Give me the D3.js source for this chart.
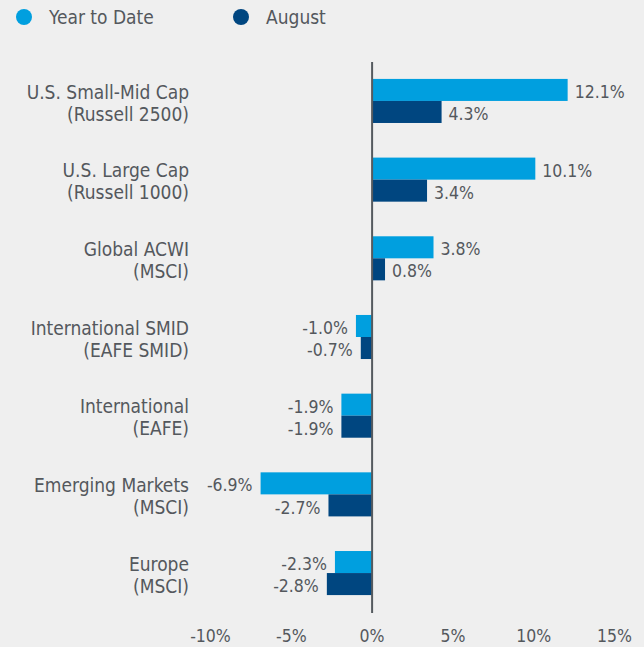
<!DOCTYPE html>
<html>
<head>
<meta charset="utf-8">
<script src="https://cdn.jsdelivr.net/npm/d3@7"></script>
<style>
  body { margin: 0; background: #efefef; }
  svg { display: block; }
  text { font-family: "DejaVu Sans Condensed", Roboto, sans-serif; fill: #54585d; }
</style>
</head>
<body>
<svg></svg>
<script>
// data
var categories = [
    ["U.S. Small-Mid Cap", "(Russell 2500)"],
    ["U.S. Large Cap", "(Russell 1000)"],
    ["Global ACWI", "(MSCI)"],
    ["International SMID", "(EAFE SMID)"],
    ["International", "(EAFE)"],
    ["Emerging Markets", "(MSCI)"],
    ["Europe", "(MSCI)"]
];
var ytd = [12.1, 10.1, 3.8, -1.0, -1.9, -6.9, -2.3];
var august = [4.3, 3.4, 0.8, -0.7, -1.9, -2.7, -2.8];
var seriesNames = ["Year to Date", "August"];
var colors = ["#009fdf", "#004680"];
var ticks = [-10, -5, 0, 5, 10, 15];

var width = 644, height = 647;

var svg = d3.select("svg")
    .attr("width", width)
    .attr("height", height);

var x = d3.scaleLinear()
    .domain([-10, 15])
    .range([210.5, 614.5]);

var y = d3.scaleBand()
    .domain(d3.range(categories.length))
    .range([62, 612])
    .paddingInner(0.44)
    .paddingOuter(0.215);

var sub = d3.scaleBand()
    .domain([0, 1])
    .range([0, y.bandwidth()]);

var rows = categories.map(function(c, i) {
    return {name: c, values: [ytd[i], august[i]]};
});

// legend
var legend = svg.append("g").selectAll("g")
    .data(seriesNames)
    .enter()
    .append("g")
    .attr("transform", function(d, i) { return "translate(" + (i == 0 ? 24 : 241) + ",17)"; });

legend.append("circle")
    .attr("cx", 0)
    .attr("r", 8)
    .attr("fill", function(d, i) { return colors[i]; });

legend.append("text")
    .attr("x", 25)
    .attr("dy", "0.35em")
    .style("font-size", "19px")
    .text(function(d) { return d; });

// bars
var group = svg.append("g").selectAll("g")
    .data(rows)
    .enter()
    .append("g")
    .attr("transform", function(d, i) { return "translate(0," + y(i) + ")"; });

group.selectAll("rect")
    .data(function(d) { return d.values; })
    .enter()
    .append("rect")
    .attr("x", function(d) { return x(Math.min(0, d)); })
    .attr("y", function(d, j) { return sub(j); })
    .attr("width", function(d) { return Math.abs(x(d) - x(0)); })
    .attr("height", sub.bandwidth())
    .attr("fill", function(d, j) { return colors[j]; });

group.selectAll("text.val")
    .data(function(d) { return d.values; })
    .enter()
    .append("text")
    .attr("class", "val")
    .attr("x", function(d) { return d >= 0 ? x(d) + 7 : x(d) - 8; })
    .attr("y", function(d, j) { return sub(j) + sub.bandwidth() / 2 + 2; })
    .attr("dy", "0.35em")
    .attr("text-anchor", function(d) { return d >= 0 ? "start" : "end"; })
    .style("font-size", "17.5px")
    .text(function(d) { return d.toFixed(1) + "%"; });

// category labels
var lbl = group.append("text")
    .attr("text-anchor", "end")
    .style("font-size", "19px");

lbl.append("tspan")
    .attr("x", 189)
    .attr("y", y.bandwidth() / 2 - 9)
    .attr("dy", "0.35em")
    .text(function(d) { return d.name[0]; });

lbl.append("tspan")
    .attr("x", 189)
    .attr("y", y.bandwidth() / 2 + 13)
    .attr("dy", "0.35em")
    .text(function(d) { return d.name[1]; });

// zero line
svg.append("line")
    .attr("x1", x(0)).attr("x2", x(0))
    .attr("y1", 62).attr("y2", 613)
    .attr("stroke", "#555a5f")
    .attr("stroke-width", 2);

// x axis tick labels
svg.append("g").selectAll("text")
    .data(ticks)
    .enter()
    .append("text")
    .attr("x", function(d) { return x(d); })
    .attr("y", 636)
    .attr("dy", "0.35em")
    .attr("text-anchor", "middle")
    .style("font-size", "17.5px")
    .text(function(d) { return d + "%"; });
</script>
</body>
</html>
